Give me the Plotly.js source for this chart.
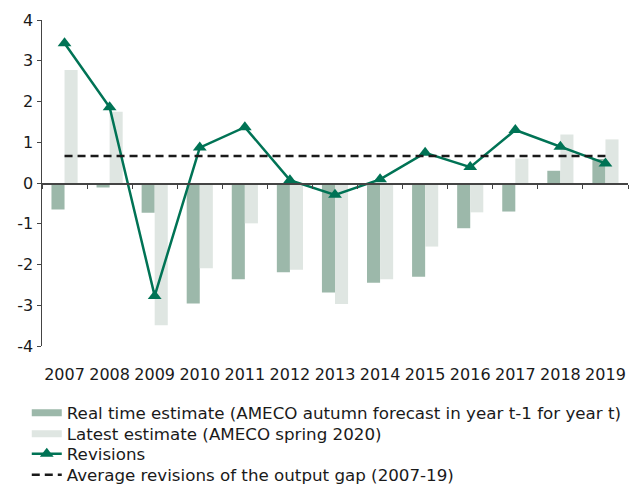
<!DOCTYPE html>
<html>
<head>
<meta charset="utf-8">
<script src="https://cdn.plot.ly/plotly-3.0.1.min.js"></script>
<style>html,body{margin:0;padding:0;background:#fff;}#chart{width:629px;height:484px;}</style>
</head>
<body>
<div id="chart"></div>
<script>
const years = ['2007','2008','2009','2010','2011','2012','2013','2014','2015','2016','2017','2018','2019'];
const realTime = [-0.65, -0.11, -0.73, -2.96, -2.36, -2.19, -2.69, -2.45, -2.30, -1.11, -0.70, 0.30, 0.59];
const latest = [2.77, 1.75, -3.49, -2.09, -0.99, -2.13, -2.97, -2.36, -1.56, -0.72, 0.60, 1.19, 1.07];
const revisions = [3.43, 1.86, -2.77, 0.87, 1.37, 0.07, -0.29, 0.09, 0.74, 0.39, 1.30, 0.89, 0.48];
const averageRevision = 0.66;
const yTicks = [-4, -3, -2, -1, 0, 1, 2, 3, 4];
const yTickText = ['-4', '-3', '-2', '-1', '0', '1', '2', '3', '4'];
const seriesNames = [
  'Real time estimate (AMECO autumn forecast in year t-1 for year t)',
  'Latest estimate (AMECO spring 2020)',
  'Revisions',
  'Average revisions of the output gap (2007-19)'
];

const FAMILY = 'DejaVu Sans, Verdana, sans-serif';
const tickFont = {family: FAMILY, size: 16, color: '#1a1a1a'};
const legFont = {family: FAMILY, size: 16.7, color: '#1a1a1a'};
const avgLine = years.map(() => averageRevision);
const empty = years.map(() => null);

const DARK = '#9cb8aa', LIGHT = '#dfe6e2', GREEN = '#007355';

const data = [
  {type: 'bar', x: years, y: realTime, name: seriesNames[0], showlegend: false,
   marker: {color: DARK}, xaxis: 'x', yaxis: 'y'},
  {type: 'bar', x: years, y: latest, name: seriesNames[1], showlegend: false,
   marker: {color: LIGHT}, xaxis: 'x', yaxis: 'y'},
  {type: 'scatter', mode: 'lines+markers', x: years, y: revisions, name: seriesNames[2],
   line: {color: GREEN, width: 2.5}, marker: {symbol: 'triangle-up', size: 12, color: GREEN},
   xaxis: 'x', yaxis: 'y', legend: 'legend3'},
  {type: 'scatter', mode: 'lines', x: years, y: avgLine, name: seriesNames[3],
   line: {color: '#1a1a1a', width: 2.5, dash: '8px,5px'}, xaxis: 'x', yaxis: 'y', legend: 'legend4'},
  // wide flat legend keys for the two bar series
  {type: 'scatter', mode: 'lines', x: years, y: empty, name: seriesNames[0],
   line: {color: DARK, width: 7}, xaxis: 'x', yaxis: 'y', legend: 'legend', hoverinfo: 'skip'},
  {type: 'scatter', mode: 'lines', x: years, y: empty, name: seriesNames[1],
   line: {color: LIGHT, width: 7}, xaxis: 'x', yaxis: 'y', legend: 'legend2', hoverinfo: 'skip'},
  // carries the category labels on the bottom axis
  {type: 'scatter', mode: 'markers', x: years, y: realTime, showlegend: false, hoverinfo: 'skip',
   marker: {opacity: 0}, xaxis: 'x2', yaxis: 'y'}
];

const PLOT_BOTTOM = 346, PLOT_H = 326;
function leg(yPx) {
  return {orientation: 'v', x: -0.026, xanchor: 'left',
    y: (PLOT_BOTTOM - yPx) / PLOT_H, yanchor: 'middle', font: legFont, bgcolor: 'rgba(0,0,0,0)',
    tracegroupgap: 0, itemwidth: 30, borderwidth: 0};
}

const layout = {
  width: 629, height: 484,
  margin: {l: 42, r: 1, t: 20, b: 138, autoexpand: false},
  paper_bgcolor: '#fff', plot_bgcolor: '#fff',
  font: tickFont,
  showlegend: true,
  barmode: 'group', bargap: 0.42, bargroupgap: 0,
  xaxis: {type: 'category', range: [-0.5, 12.5], anchor: 'free', position: 0.5,
    showline: true, linecolor: '#444', linewidth: 1.5, ticks: 'outside', tickson: 'boundaries',
    ticklen: 4, tickcolor: '#444', showticklabels: false, showgrid: false, zeroline: false, fixedrange: true},
  xaxis2: {type: 'category', range: [-0.5, 12.5], overlaying: 'x', anchor: 'y', side: 'bottom',
    showline: false, ticks: 'outside', ticklen: 14, tickcolor: 'rgba(0,0,0,0)',
    showgrid: false, zeroline: false, tickfont: tickFont, tickangle: 0},
  yaxis: {range: [-4, 4], tickvals: yTicks, ticktext: yTickText, showline: true, linecolor: '#444', linewidth: 1.5,
    ticks: 'outside', ticklen: 4, tickcolor: '#444', showgrid: false, zeroline: false, tickfont: tickFont},
  legend: leg(413),
  legend2: leg(434),
  legend3: leg(454),
  legend4: leg(475)
};

Plotly.newPlot('chart', data, layout, {displayModeBar: false, staticPlot: true});
</script>
</body>
</html>
